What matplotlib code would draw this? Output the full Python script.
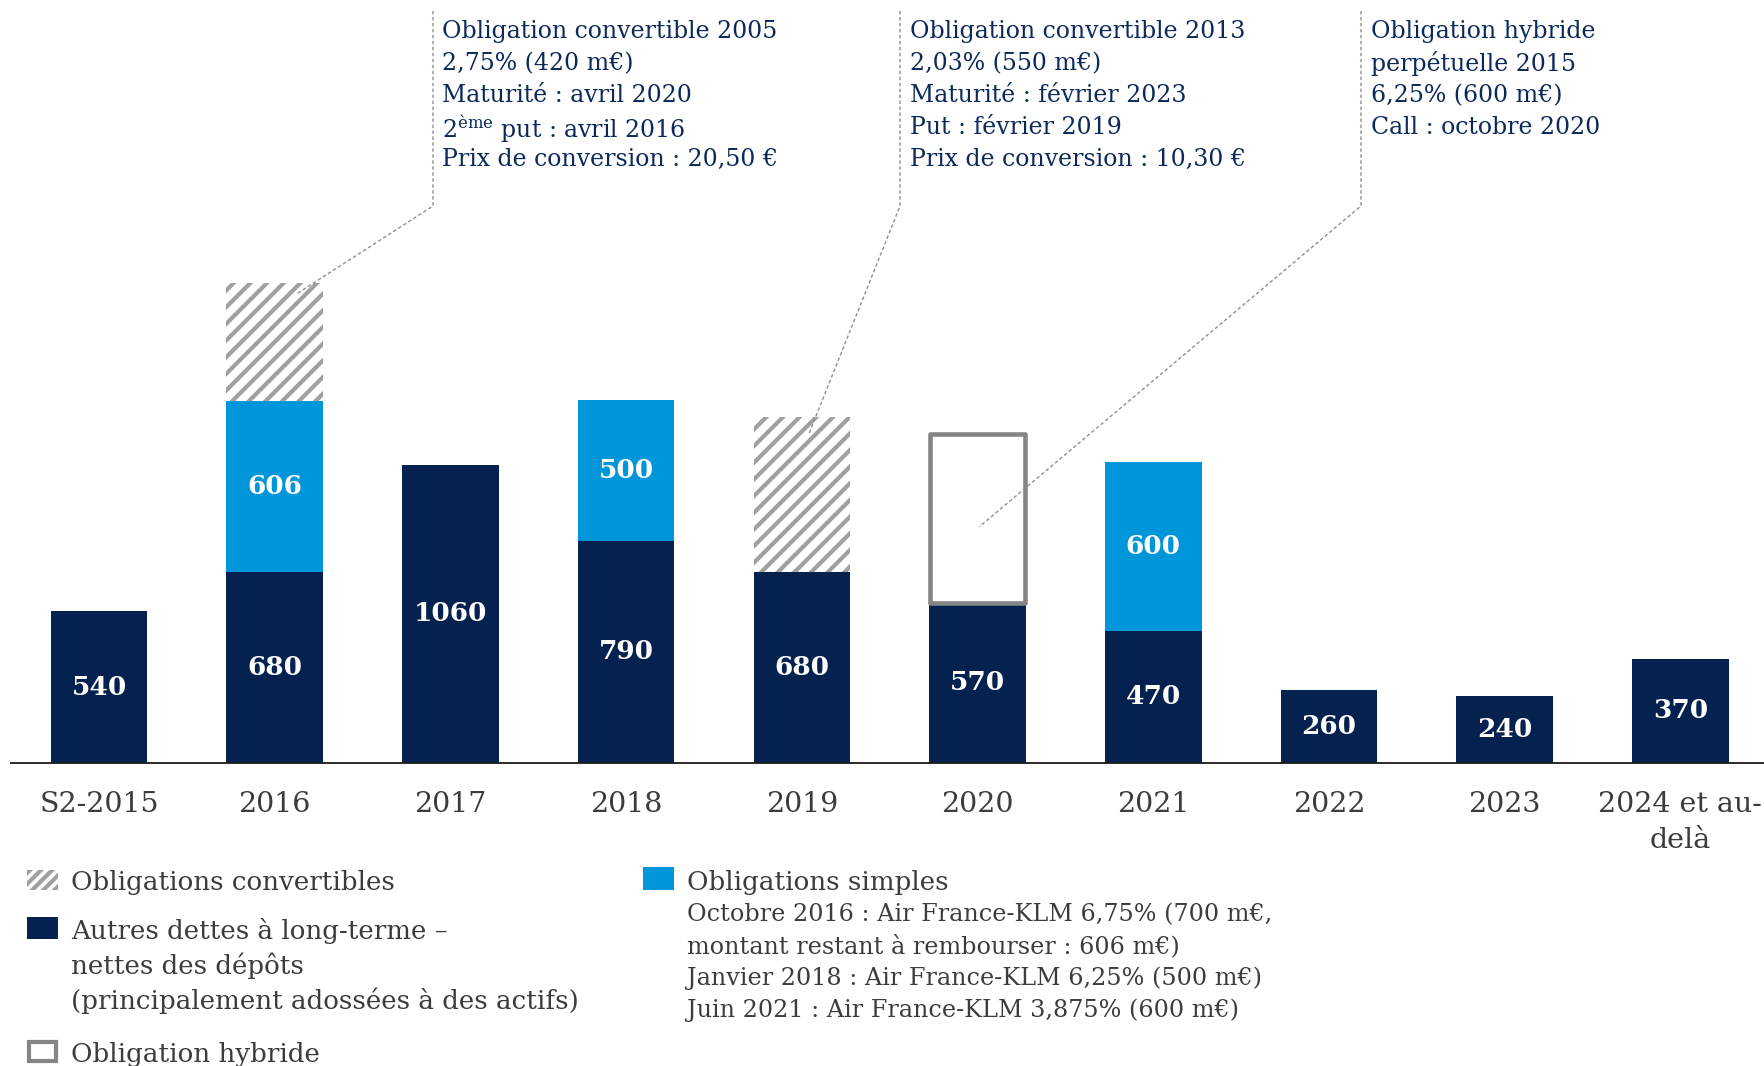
import matplotlib
matplotlib.use("Agg")
import matplotlib.pyplot as plt
from matplotlib.patches import Rectangle

# ---------------- data ----------------
categories = ["S2-2015", "2016", "2017", "2018", "2019", "2020", "2021",
              "2022", "2023", "2024 et au-\ndelà"]
autres = [540, 680, 1060, 790, 680, 570, 470, 260, 240, 370]
simples = [0, 606, 0, 500, 0, 0, 600, 0, 0, 0]
convertibles = [0, 420, 0, 0, 550, 0, 0, 0, 0, 0]
hybride = [0, 0, 0, 0, 0, 600, 0, 0, 0, 0]

annot_2005 = ["Obligation convertible 2005", "2,75% (420 m€)", "Maturité : avril 2020",
              "2$^{\\mathrm{ème}}$ put : avril 2016", "Prix de conversion : 20,50 €"]
annot_2013 = ["Obligation convertible 2013", "2,03% (550 m€)", "Maturité : février 2023",
              "Put : février 2019", "Prix de conversion : 10,30 €"]
annot_hyb = ["Obligation hybride", "perpétuelle 2015", "6,25% (600 m€)", "Call : octobre 2020"]

legend_conv = "Obligations convertibles"
legend_autres = ["Autres dettes à long-terme –", "nettes des dépôts",
                 "(principalement adossées à des actifs)"]
legend_hyb = "Obligation hybride"
legend_simples = ["Obligations simples",
                  "Octobre 2016 : Air France-KLM 6,75% (700 m€,",
                  "montant restant à rembourser : 606 m€)",
                  "Janvier 2018 : Air France-KLM 6,25% (500 m€)",
                  "Juin 2021 : Air France-KLM 3,875% (600 m€)"]

# ---------------- style ----------------
NAVY = "#05214F"
BLUE = "#0096D9"
GREY = "#858585"
HATCH_GREY = "#A0A0A0"
TXT_NAVY = "#0B2A5B"
TXT_GREY = "#3C3C3C"
FONT = "DejaVu Serif"

plt.rcParams["font.family"] = [FONT, "DejaVu Sans"]
plt.rcParams["mathtext.fontset"] = "dejavuserif"
plt.rcParams["hatch.linewidth"] = 3.0

W, H = 1764, 1066
fig = plt.figure(figsize=(W / 100, H / 100), dpi=100)

def fx(px):
    return px / W

def fy(py):
    return 1 - py / H

ax = fig.add_axes([fx(11), fy(763), fx(1753), 763 / H])
ax.set_xlim(-0.501, 9.476)
ax.set_ylim(0, 763 / 0.28125)

x = list(range(len(categories)))
bw = 0.55
ax.bar(x, autres, bw, color=NAVY, zorder=2)
ax.bar(x, simples, bw, bottom=autres, color=BLUE, zorder=2)
base2 = [a + s for a, s in zip(autres, simples)]
ax.bar(x, convertibles, bw, bottom=base2, facecolor="white", edgecolor=HATCH_GREY,
       hatch="//", linewidth=0, zorder=2)
hb = ax.bar(x, hybride, bw * 0.99, bottom=base2, facecolor="white", edgecolor=GREY,
            linewidth=3.3, zorder=3)
for p, v in zip(hb, hybride):
    if v == 0:
        p.set_visible(False)
    else:
        p.set_joinstyle("round")

# value labels
for i in x:
    ax.text(i, autres[i] / 2, f"{autres[i]}", ha="center", va="center",
            color="white", fontsize=19, fontweight="bold", zorder=4)
    if simples[i]:
        ax.text(i, autres[i] + simples[i] / 2, f"{simples[i]}", ha="center", va="center",
                color="white", fontsize=19, fontweight="bold", zorder=4)

# axes styling
for s in ["top", "right", "left"]:
    ax.spines[s].set_visible(False)
ax.spines["bottom"].set_linewidth(1.3)
ax.spines["bottom"].set_color("#1a1a1a")
ax.set_yticks([])
ax.set_xticks(x)
ax.set_xticklabels(categories, fontsize=20.5, color=TXT_GREY, linespacing=1.45)
ax.tick_params(axis="x", length=0, pad=20)

# ---------------- annotations ----------------
def py2d(py):
    return (763 - py) / 0.28125

def px2d(px):
    return (px - 11) / 175.7 - 0.501

line_kw = dict(color="#8f8f8f", lw=1.0, ls=(0, (2.5, 1.8)), clip_on=False, zorder=5)
leaders = [
    (433, (1.12, base2[1] + convertibles[1] - 40)),
    (900, (4.04, base2[4] + convertibles[4] - 60)),
    (1361, (5.01, base2[5] + hybride[5] - 330)),
]
for vx, (ex, ey) in leaders:
    ax.plot([px2d(vx), px2d(vx), ex], [py2d(11), py2d(206), ey], **line_kw)

def block(lines, left_px, top_center_px, step=32):
    for k, t in enumerate(lines):
        fig.text(fx(left_px), fy(top_center_px + k * step), t, ha="left", va="center_baseline",
                 fontsize=17, color=TXT_NAVY)

block(annot_2005, 442, 29)
block(annot_2013, 910, 29)
block(annot_hyb, 1371, 29)

# ---------------- legend ----------------
def swatch(left, top, w, h, **kw):
    fig.add_artist(Rectangle((fx(left), fy(top + h)), w / W, h / H,
                             transform=fig.transFigure, **kw))

LFS = 18.8
swatch(27, 870, 31, 20, facecolor="white", edgecolor=HATCH_GREY, hatch="///", linewidth=0)
fig.text(fx(71), fy(880), legend_conv, ha="left", va="center_baseline", fontsize=LFS,
         color=TXT_GREY)

swatch(27, 917, 31, 22, facecolor=NAVY, linewidth=0)
for k, t in enumerate(legend_autres):
    fig.text(fx(71), fy(929 + k * 34.5), t, ha="left", va="center_baseline", fontsize=LFS,
             color=TXT_GREY)

swatch(29, 1042, 27, 19, facecolor="white", edgecolor=GREY, linewidth=3.0)
fig.text(fx(71), fy(1052), legend_hyb, ha="left", va="center_baseline", fontsize=LFS,
         color=TXT_GREY)

swatch(643, 867, 31, 23, facecolor=BLUE, linewidth=0)
fig.text(fx(687), fy(880), legend_simples[0], ha="left", va="center_baseline", fontsize=LFS,
         color=TXT_GREY)
for k, t in enumerate(legend_simples[1:]):
    fig.text(fx(687), fy(912 + k * 31.8), t, ha="left", va="center_baseline", fontsize=17.2,
             color=TXT_GREY)

fig.savefig("out.png", dpi=100)
